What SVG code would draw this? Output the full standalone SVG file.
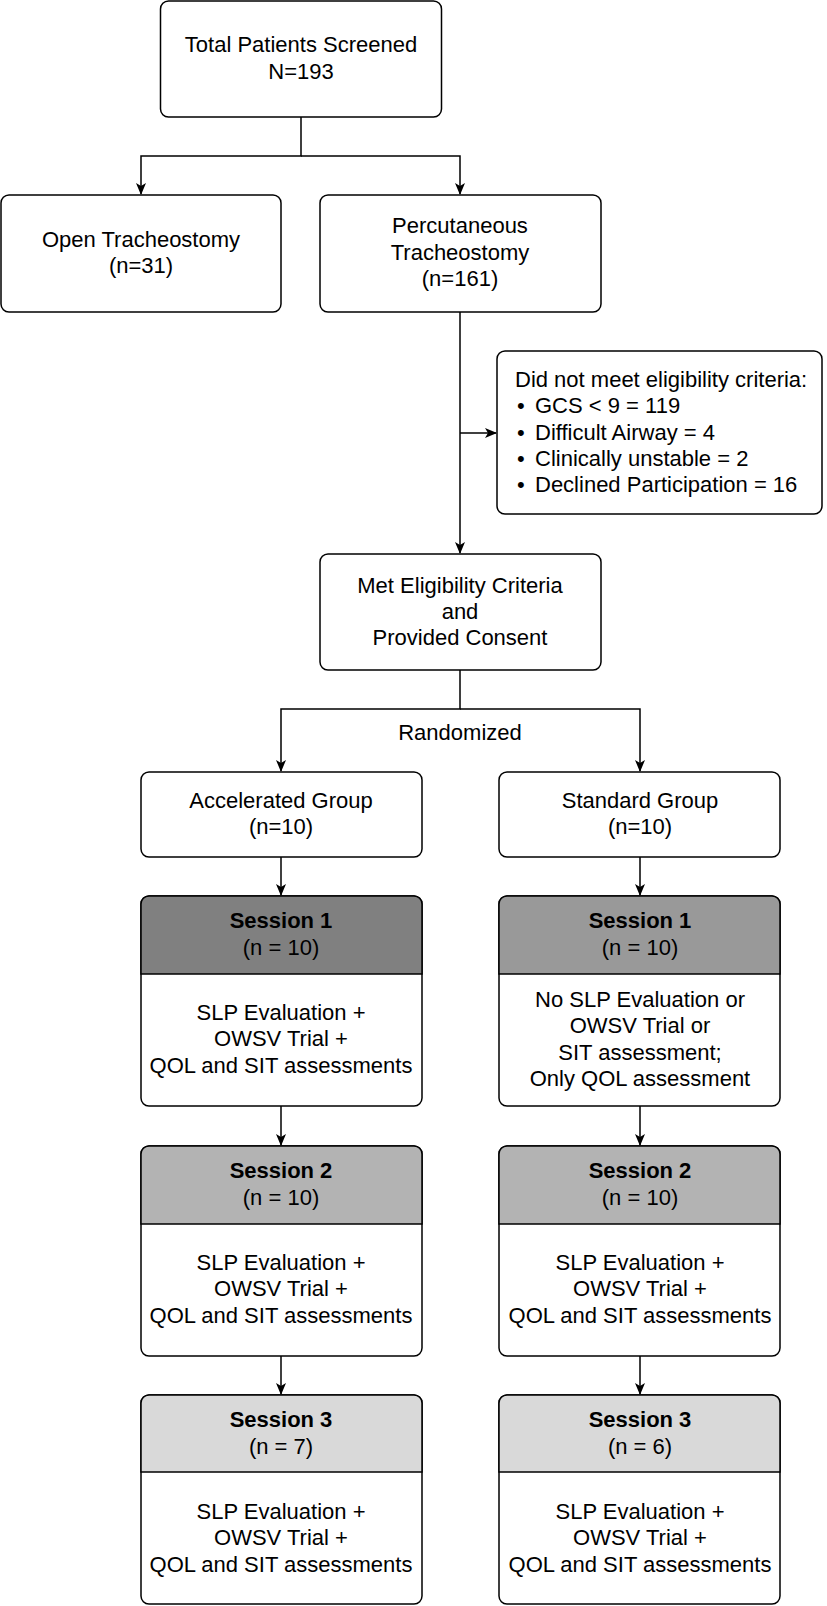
<svg xmlns="http://www.w3.org/2000/svg" width="827" height="1606" viewBox="0 0 827 1606">
<defs>
<style>
.box{fill:#fff;stroke:#000;stroke-width:1.5}
.hdr{stroke:#000;stroke-width:1.5}
.ln{fill:none;stroke:#000;stroke-width:1.5}
text{font-family:"Liberation Sans",Arial,Helvetica,sans-serif;font-size:22px;fill:#000}
.c{text-anchor:middle}
.b{font-weight:bold}
</style>
<marker id="arr" viewBox="0 0 12 10" refX="11" refY="5" markerWidth="12" markerHeight="10" markerUnits="userSpaceOnUse" orient="auto">
<path d="M0,0 L12,5 L0,10 L3,5 Z" fill="#000"/>
</marker>
</defs>
<rect width="827" height="1606" fill="#fff"/>

<g id="connectors">
<path class="ln" d="M301,117 V156 H141 V194" marker-end="url(#arr)"/>
<path class="ln" d="M301,156 H460 V194" marker-end="url(#arr)"/>
<path class="ln" d="M460,312 V553" marker-end="url(#arr)"/>
<path class="ln" d="M460,433 H496" marker-end="url(#arr)"/>
<path class="ln" d="M460,670 V709 H281 V771" marker-end="url(#arr)"/>
<path class="ln" d="M460,709 H640 V771" marker-end="url(#arr)"/>
<path class="ln" d="M281,857 V895" marker-end="url(#arr)"/>
<path class="ln" d="M640,857 V895" marker-end="url(#arr)"/>
<path class="ln" d="M281,1106 V1145" marker-end="url(#arr)"/>
<path class="ln" d="M640,1106 V1145" marker-end="url(#arr)"/>
<path class="ln" d="M281,1356 V1394" marker-end="url(#arr)"/>
<path class="ln" d="M640,1356 V1394" marker-end="url(#arr)"/>
<text class="c" x="460" y="740">Randomized</text>
</g>

<g id="screened">
<rect class="box" x="160.5" y="1" width="281" height="116" rx="8"/>
<text class="c" x="301" y="52">Total Patients Screened</text>
<text class="c" x="301" y="79">N=193</text>
</g>

<g id="open">
<rect class="box" x="1" y="195" width="280" height="117" rx="8"/>
<text class="c" x="141" y="247">Open Tracheostomy</text>
<text class="c" x="141" y="273">(n=31)</text>
</g>

<g id="percutaneous">
<rect class="box" x="320" y="195" width="281" height="117" rx="8"/>
<text class="c" x="460" y="233">Percutaneous</text>
<text class="c" x="460" y="259.5">Tracheostomy</text>
<text class="c" x="460" y="286">(n=161)</text>
</g>

<g id="excluded">
<rect class="box" x="497" y="351" width="325" height="163" rx="8"/>
<text x="515" y="387">Did not meet eligibility criteria:</text>
<text x="517" y="413">•</text><text x="535" y="413">GCS &lt; 9 = 119</text>
<text x="517" y="440">•</text><text x="535" y="440">Difficult Airway = 4</text>
<text x="517" y="466">•</text><text x="535" y="466">Clinically unstable = 2</text>
<text x="517" y="492">•</text><text x="535" y="492">Declined Participation = 16</text>
</g>

<g id="eligible">
<rect class="box" x="320" y="554" width="281" height="116" rx="8"/>
<text class="c" x="460" y="593">Met Eligibility Criteria</text>
<text class="c" x="460" y="619">and</text>
<text class="c" x="460" y="645">Provided Consent</text>
</g>

<g id="accelerated">
<rect class="box" x="141" y="772" width="281" height="85" rx="8"/>
<text class="c" x="281" y="808">Accelerated Group</text>
<text class="c" x="281" y="834">(n=10)</text>
</g>

<g id="standard">
<rect class="box" x="499" y="772" width="281" height="85" rx="8"/>
<text class="c" x="640" y="808">Standard Group</text>
<text class="c" x="640" y="834">(n=10)</text>
</g>

<g id="acc-s1">
<rect class="box" x="141" y="896" width="281" height="210" rx="8"/>
<path class="hdr" fill="#808080" d="M141,974 V904 A8,8 0 0 1 149,896 H414 A8,8 0 0 1 422,904 V974 Z"/>
<text class="c b" x="281" y="928">Session 1</text>
<text class="c" x="281" y="954.5">(n = 10)</text>
<text class="c" x="281" y="1020">SLP Evaluation +</text>
<text class="c" x="281" y="1046.4">OWSV Trial +</text>
<text class="c" x="281" y="1072.8">QOL and SIT assessments</text>
</g>

<g id="std-s1">
<rect class="box" x="499" y="896" width="281" height="210" rx="8"/>
<path class="hdr" fill="#999999" d="M499,974 V904 A8,8 0 0 1 507,896 H772 A8,8 0 0 1 780,904 V974 Z"/>
<text class="c b" x="640" y="928">Session 1</text>
<text class="c" x="640" y="954.5">(n = 10)</text>
<text class="c" x="640" y="1007">No SLP Evaluation or</text>
<text class="c" x="640" y="1033.4">OWSV Trial or</text>
<text class="c" x="640" y="1059.8">SIT assessment;</text>
<text class="c" x="640" y="1086.2">Only QOL assessment</text>
</g>

<g id="acc-s2">
<rect class="box" x="141" y="1146" width="281" height="210" rx="8"/>
<path class="hdr" fill="#b3b3b3" d="M141,1224 V1154 A8,8 0 0 1 149,1146 H414 A8,8 0 0 1 422,1154 V1224 Z"/>
<text class="c b" x="281" y="1178">Session 2</text>
<text class="c" x="281" y="1204.5">(n = 10)</text>
<text class="c" x="281" y="1270">SLP Evaluation +</text>
<text class="c" x="281" y="1296.4">OWSV Trial +</text>
<text class="c" x="281" y="1322.8">QOL and SIT assessments</text>
</g>

<g id="std-s2">
<rect class="box" x="499" y="1146" width="281" height="210" rx="8"/>
<path class="hdr" fill="#b3b3b3" d="M499,1224 V1154 A8,8 0 0 1 507,1146 H772 A8,8 0 0 1 780,1154 V1224 Z"/>
<text class="c b" x="640" y="1178">Session 2</text>
<text class="c" x="640" y="1204.5">(n = 10)</text>
<text class="c" x="640" y="1270">SLP Evaluation +</text>
<text class="c" x="640" y="1296.4">OWSV Trial +</text>
<text class="c" x="640" y="1322.8">QOL and SIT assessments</text>
</g>

<g id="acc-s3">
<rect class="box" x="141" y="1395" width="281" height="209" rx="8"/>
<path class="hdr" fill="#d9d9d9" d="M141,1472 V1403 A8,8 0 0 1 149,1395 H414 A8,8 0 0 1 422,1403 V1472 Z"/>
<text class="c b" x="281" y="1427">Session 3</text>
<text class="c" x="281" y="1453.5">(n = 7)</text>
<text class="c" x="281" y="1519">SLP Evaluation +</text>
<text class="c" x="281" y="1545.4">OWSV Trial +</text>
<text class="c" x="281" y="1571.8">QOL and SIT assessments</text>
</g>

<g id="std-s3">
<rect class="box" x="499" y="1395" width="281" height="209" rx="8"/>
<path class="hdr" fill="#d9d9d9" d="M499,1472 V1403 A8,8 0 0 1 507,1395 H772 A8,8 0 0 1 780,1403 V1472 Z"/>
<text class="c b" x="640" y="1427">Session 3</text>
<text class="c" x="640" y="1453.5">(n = 6)</text>
<text class="c" x="640" y="1519">SLP Evaluation +</text>
<text class="c" x="640" y="1545.4">OWSV Trial +</text>
<text class="c" x="640" y="1571.8">QOL and SIT assessments</text>
</g>
</svg>
